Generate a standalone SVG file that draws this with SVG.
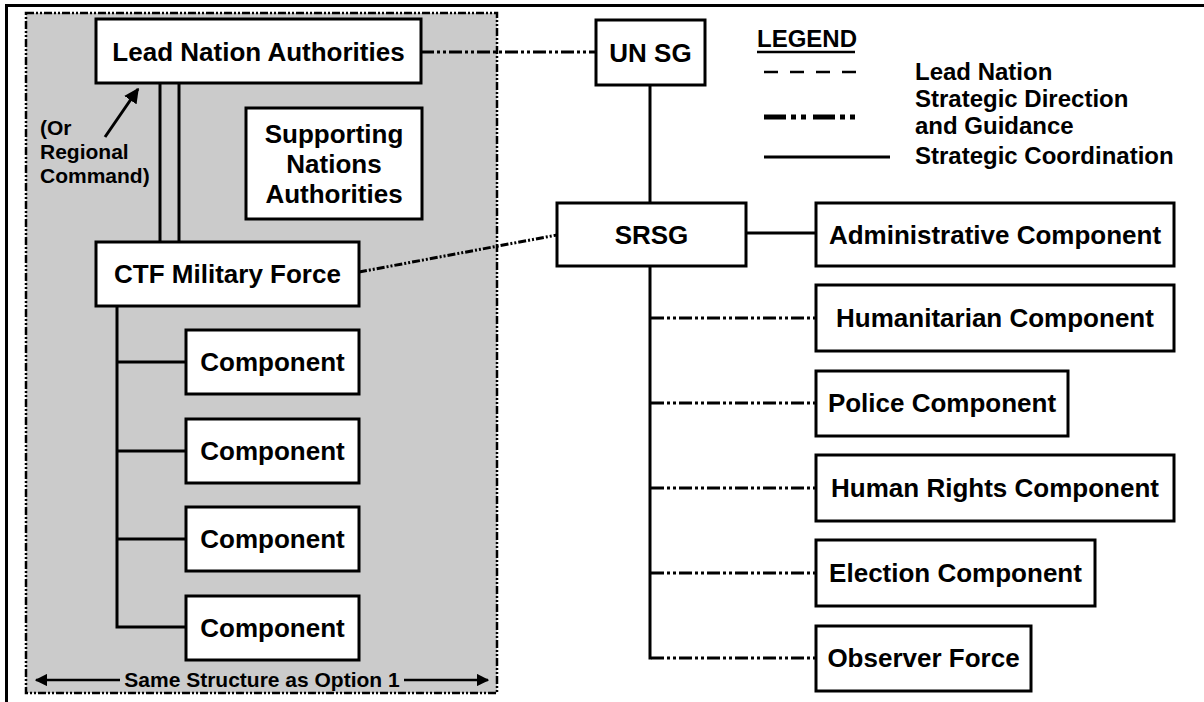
<svg xmlns="http://www.w3.org/2000/svg" width="1204" height="702" viewBox="0 0 1204 702">
<defs>
<style>
.box{fill:#fff;stroke:#000;stroke-width:3}
.t{font-family:"Liberation Sans",Arial,sans-serif;font-weight:bold;font-size:26px;fill:#000;text-anchor:middle}
.s{font-family:"Liberation Sans",Arial,sans-serif;font-weight:bold;font-size:21px;fill:#000}
.lg{font-family:"Liberation Sans",Arial,sans-serif;font-weight:bold;font-size:24px;fill:#000}
.solid{stroke:#000;stroke-width:3;fill:none}
.dd{stroke:#000;stroke-width:3;fill:none;stroke-dasharray:13 3 3 3 3 3}
.slant{stroke:#000;stroke-width:3;fill:none;stroke-dasharray:8 2 2 2 2 2}
</style>
<marker id="ah" viewBox="0 0 10 10" refX="9" refY="5" markerWidth="5" markerHeight="5" orient="auto-start-reverse" markerUnits="strokeWidth">
<path d="M0,0 L10,5 L0,10 z" fill="#000"/>
</marker>
</defs>
<rect width="1204" height="702" fill="#fff"/>
<g id="frame">
<line x1="6" y1="5.5" x2="1204" y2="5.5" stroke="#000" stroke-width="3"/>
<line x1="6.5" y1="4" x2="6.5" y2="702" stroke="#000" stroke-width="3"/>
</g>
<g id="option-area">
<rect x="26" y="13" width="471" height="680" fill="#cbcbcb" stroke="#000" stroke-width="2.5" stroke-dasharray="8 2 2 2 2 2"/>
</g>
<g id="connectors">
<line class="dd" x1="421" y1="52" x2="596" y2="52"/>
<line class="solid" x1="160" y1="83" x2="160" y2="242"/>
<line class="solid" x1="179" y1="83" x2="179" y2="242"/>
<line x1="105" y1="137" x2="138" y2="89" stroke="#000" stroke-width="3" marker-end="url(#ah)"/>
<line class="slant" x1="359" y1="272" x2="557" y2="235"/>
<line class="solid" x1="650" y1="85" x2="650" y2="203"/>
<line class="solid" x1="746" y1="233" x2="816" y2="233"/>
<line class="solid" x1="650" y1="266" x2="650" y2="659.5"/>
<line class="dd" x1="651" y1="318" x2="816" y2="318"/>
<line class="dd" x1="651" y1="403" x2="816" y2="403"/>
<line class="dd" x1="651" y1="488" x2="816" y2="488"/>
<line class="dd" x1="651" y1="573" x2="816" y2="573"/>
<line class="dd" x1="651" y1="658" x2="816" y2="658"/>
<path class="solid" d="M117,306 V627 H186"/>
<line class="solid" x1="117" y1="362" x2="186" y2="362"/>
<line class="solid" x1="117" y1="451" x2="186" y2="451"/>
<line class="solid" x1="117" y1="539" x2="186" y2="539"/>
<line x1="36" y1="680" x2="120" y2="680" stroke="#000" stroke-width="2.5" marker-start="url(#ah)"/>
<line x1="404" y1="680" x2="488" y2="680" stroke="#000" stroke-width="2.5" marker-end="url(#ah)"/>
</g>
<g id="lead-nation">
<rect class="box" x="96" y="19" width="325" height="64"/>
<text class="t" x="258.5" y="61">Lead Nation Authorities</text>
</g>
<g id="or-regional-label">
<text class="s" x="40" y="135">(Or</text>
<text class="s" x="40" y="159">Regional</text>
<text class="s" x="40" y="183">Command)</text>
</g>
<g id="supporting">
<rect class="box" x="246" y="108" width="176" height="111"/>
<text class="t" x="334" y="143">Supporting</text>
<text class="t" x="334" y="173">Nations</text>
<text class="t" x="334" y="203">Authorities</text>
</g>
<g id="ctf">
<rect class="box" x="96" y="242" width="263" height="64"/>
<text class="t" x="227.5" y="283">CTF Military Force</text>
</g>
<g id="component-1">
<rect class="box" x="186" y="330" width="173" height="64"/>
<text class="t" x="272.5" y="371">Component</text>
</g>
<g id="component-2">
<rect class="box" x="186" y="419" width="173" height="64"/>
<text class="t" x="272.5" y="460">Component</text>
</g>
<g id="component-3">
<rect class="box" x="186" y="507" width="173" height="64"/>
<text class="t" x="272.5" y="548">Component</text>
</g>
<g id="component-4">
<rect class="box" x="186" y="596" width="173" height="64"/>
<text class="t" x="272.5" y="637">Component</text>
</g>
<g id="same-structure">
<text class="s" x="262" y="687" text-anchor="middle">Same Structure as Option 1</text>
</g>
<g id="un-sg">
<rect class="box" x="596" y="20" width="109" height="65"/>
<text class="t" x="650.5" y="62">UN SG</text>
</g>
<g id="srsg">
<rect class="box" x="557" y="203" width="189" height="63"/>
<text class="t" x="651.5" y="244">SRSG</text>
</g>
<g id="administrative">
<rect class="box" x="816" y="203" width="358" height="63"/>
<text class="t" x="995" y="244">Administrative Component</text>
</g>
<g id="humanitarian">
<rect class="box" x="816" y="285" width="358" height="66"/>
<text class="t" x="995" y="327">Humanitarian Component</text>
</g>
<g id="police">
<rect class="box" x="816" y="371" width="252" height="65"/>
<text class="t" x="942" y="412">Police Component</text>
</g>
<g id="human-rights">
<rect class="box" x="816" y="455" width="358" height="66"/>
<text class="t" x="995" y="497">Human Rights Component</text>
</g>
<g id="election">
<rect class="box" x="816" y="540" width="279" height="66"/>
<text class="t" x="955.5" y="582">Election Component</text>
</g>
<g id="observer">
<rect class="box" x="816" y="626" width="215" height="65"/>
<text class="t" x="923.5" y="667">Observer Force</text>
</g>
<g id="legend">
<text class="lg" x="757" y="47">LEGEND</text>
<line x1="757" y1="52" x2="855" y2="52" stroke="#000" stroke-width="2.5"/>
<line x1="764" y1="72" x2="858" y2="72" stroke="#000" stroke-width="2.5" stroke-dasharray="14 12"/>
<text class="lg" x="915" y="80">Lead Nation</text>
<line x1="764" y1="117" x2="862" y2="117" stroke="#000" stroke-width="5" stroke-dasharray="22 5 5 5 5 7"/>
<text class="lg" x="915" y="107">Strategic Direction</text>
<text class="lg" x="915" y="134">and Guidance</text>
<line x1="764" y1="157" x2="890" y2="157" stroke="#000" stroke-width="3"/>
<text class="lg" x="915" y="164">Strategic Coordination</text>
</g>
</svg>
